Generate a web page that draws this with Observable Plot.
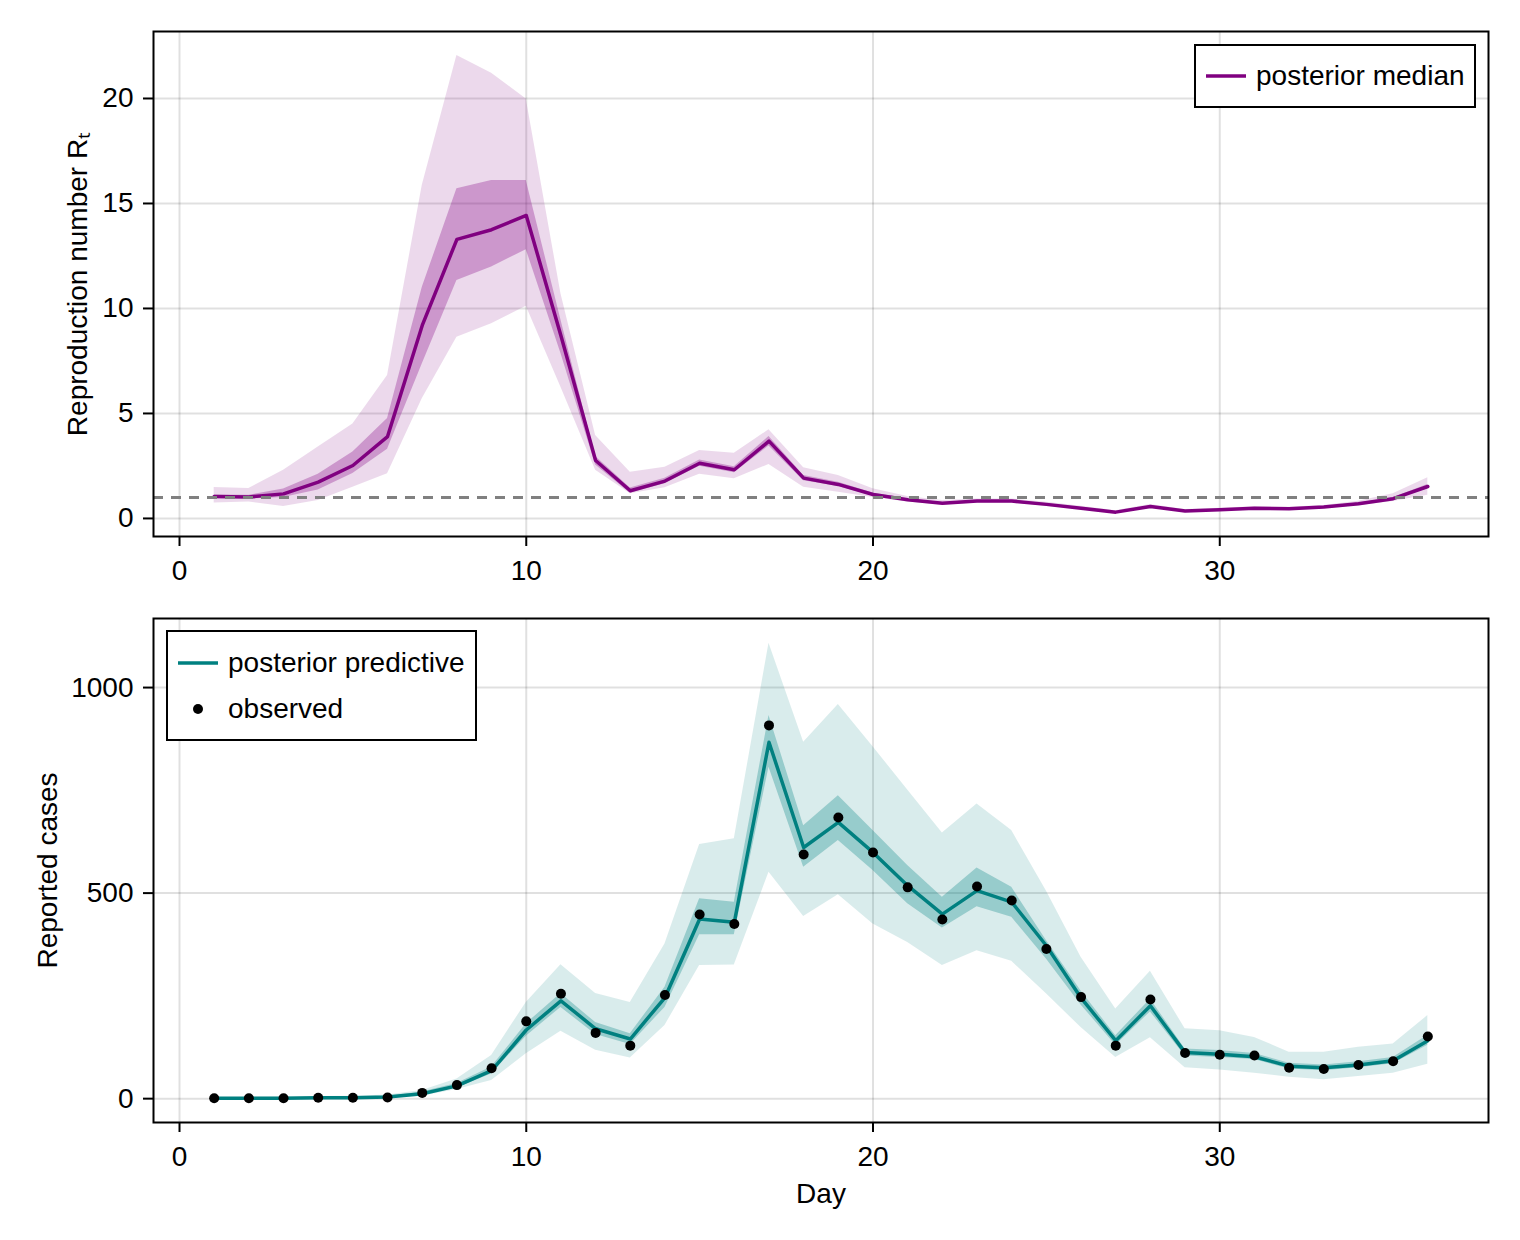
<!DOCTYPE html>
<html><head><meta charset="utf-8">
<script src="https://cdn.jsdelivr.net/npm/d3@7"></script>
<script src="https://cdn.jsdelivr.net/npm/@observablehq/plot@0.6"></script>
<style>
body{margin:0;background:#fff;font-family:"Liberation Sans",Arial,sans-serif;}
#wrap{position:relative;width:1520px;height:1240px;background:#fff;}
#wrap svg{display:block;}
.legend{position:absolute;box-sizing:border-box;border:2px solid #000;background:#fff;font-size:28px;color:#000;}
.row{display:flex;align-items:center;height:46px;}
.sw{width:40px;display:flex;justify-content:center;align-items:center;margin-right:10px;}
</style>
</head><body><div id="wrap"></div>
<script>
const days = [1,2,3,4,5,6,7,8,9,10,11,12,13,14,15,16,17,18,19,20,21,22,23,24,25,26,27,28,29,30,31,32,33,34,35,36];

// Reproduction number Rt
const rtMedian = [1.05,1.02,1.17,1.73,2.52,3.90,9.19,13.29,13.75,14.43,8.7,2.76,1.32,1.78,2.63,2.32,3.68,1.92,1.62,1.14,0.89,0.72,0.83,0.83,0.67,0.49,0.30,0.57,0.35,0.41,0.49,0.46,0.54,0.70,0.94,1.52];
const rtLo50 = [0.95,0.93,1.00,1.35,2.14,3.29,7.36,11.33,11.97,12.8,7.85,2.55,1.20,1.65,2.48,2.18,3.45,1.80,1.52,1.07,0.84,0.68,0.79,0.79,0.63,0.46,0.28,0.54,0.33,0.39,0.47,0.44,0.51,0.66,0.89,1.42];
const rtHi50 = [1.12,1.10,1.40,2.10,3.16,4.76,11.0,15.7,16.1,16.1,9.45,2.95,1.45,1.92,2.78,2.46,3.90,2.05,1.72,1.21,0.94,0.76,0.87,0.87,0.71,0.52,0.32,0.60,0.37,0.43,0.51,0.48,0.57,0.74,0.99,1.62];
const rtLo95 = [0.73,0.78,0.57,0.86,1.49,2.13,5.7,8.63,9.27,10.1,6.25,2.3,1.17,1.46,2.10,1.89,2.57,1.49,1.25,1.00,0.78,0.64,0.74,0.74,0.58,0.42,0.24,0.50,0.29,0.35,0.43,0.40,0.47,0.60,0.81,1.10];
const rtHi95 = [1.47,1.43,2.29,3.40,4.5,6.81,15.86,22.05,21.2,19.98,10.7,3.95,2.2,2.44,3.24,3.11,4.22,2.41,2.05,1.41,1.05,0.85,0.93,0.93,0.77,0.58,0.37,0.66,0.42,0.48,0.56,0.53,0.62,0.82,1.17,1.94];

// Reported cases
const observed = [1,1,1,2,2,3,14,33,74,188,255,160,129,252,448,425,908,594,684,599,514,436,516,482,364,247,129,241,111,107,105,75,72,82,91,151];
const predMedian = [1,1,1,2,2,4,12,31,68,167,238,170,145,246,437,429,867,611,672,599,518,449,506,478,372,245,141,226,112,108,102,79,75,82,92,141];
const predLo50 = [0,0,0,1,1,2,9,26,60,152,222,156,132,222,399,399,806,563,628,555,474,415,467,441,340,228,130,211,104,100,95,72,68,75,85,130];
const predHi50 = [2,2,2,3,3,6,16,37,77,182,256,185,158,271,486,478,932,664,737,652,567,490,561,514,385,262,153,242,121,117,110,86,82,90,100,154];
const predLo95 = [0,0,0,0,0,1,6,22,44,109,164,118,99,178,324,325,551,443,496,425,380,324,360,334,255,173,100,148,75,70,62,52,46,54,62,84];
const predHi95 = [3,3,4,5,6,9,20,48,105,234,326,256,234,376,618,632,1108,867,959,856,751,646,717,652,505,344,218,310,170,165,149,113,113,125,133,202];

const xTicks = [0,10,20,30];
const rtTicks = [0,5,10,15,20];
const caseTicks = [0,500,1000];

const PURPLE = "#800080", TEAL = "#008080";
const font = {fontFamily:'"Liberation Sans", Arial, sans-serif', fontSize:"28px", background:"white", color:"black"};
const fmt = d => String(d);

const rt = days.map((d,i)=>({day:d, med:rtMedian[i], lo50:rtLo50[i], hi50:rtHi50[i], lo95:rtLo95[i], hi95:rtHi95[i]}));
const cases = days.map((d,i)=>({day:d, obs:observed[i], med:predMedian[i], lo50:predLo50[i], hi50:predHi50[i], lo95:predLo95[i], hi95:predHi95[i]}));

const grid = {stroke:"black", strokeOpacity:0.12, strokeWidth:2};

const topPlot = Plot.plot({
  width:1520, height:590,
  marginTop:31, marginBottom:54, marginLeft:153, marginRight:32,
  x:{domain:[-0.75,37.75]},
  y:{domain:[-0.86,23.19]},
  style:font,
  marks:[
    Plot.gridX(xTicks, grid),
    Plot.gridY(rtTicks, grid),
    Plot.areaY(rt, {x:"day", y1:"lo95", y2:"hi95", fill:PURPLE, fillOpacity:0.15}),
    Plot.areaY(rt, {x:"day", y1:"lo50", y2:"hi50", fill:PURPLE, fillOpacity:0.3}),
    Plot.line(rt, {x:"day", y:"med", stroke:PURPLE, strokeWidth:3.5}),
    Plot.ruleY([1], {stroke:"#808080", strokeWidth:3, strokeDasharray:"10,8"}),
    Plot.axisX(xTicks, {tickSize:10, tickPadding:14, strokeWidth:2, label:null, fontSize:28, tickFormat:fmt}),
    Plot.axisY(rtTicks, {tickSize:10, tickPadding:10, strokeWidth:2, label:"Reproduction number Rₜ", labelAnchor:"center", labelOffset:86, labelArrow:"none", fontSize:28, tickFormat:fmt}),
    Plot.frame({stroke:"black", strokeWidth:2})
  ]
});

const bottomPlot = Plot.plot({
  width:1520, height:650,
  marginTop:28, marginBottom:118, marginLeft:153, marginRight:32,
  x:{domain:[-0.75,37.75]},
  y:{domain:[-58,1168]},
  style:font,
  marks:[
    Plot.gridX(xTicks, grid),
    Plot.gridY(caseTicks, grid),
    Plot.areaY(cases, {x:"day", y1:"lo95", y2:"hi95", fill:TEAL, fillOpacity:0.15}),
    Plot.areaY(cases, {x:"day", y1:"lo50", y2:"hi50", fill:TEAL, fillOpacity:0.3}),
    Plot.line(cases, {x:"day", y:"med", stroke:TEAL, strokeWidth:3.5}),
    Plot.dot(cases, {x:"day", y:"obs", r:5, fill:"black"}),
    Plot.axisX(xTicks, {tickSize:10, tickPadding:14, strokeWidth:2, label:"Day", labelAnchor:"center", labelOffset:80, labelArrow:"none", fontSize:28, tickFormat:fmt}),
    Plot.axisY(caseTicks, {tickSize:10, tickPadding:10, strokeWidth:2, label:"Reported cases", labelAnchor:"center", labelOffset:116, labelArrow:"none", fontSize:28, tickFormat:fmt}),
    Plot.frame({stroke:"black", strokeWidth:2})
  ]
});

const wrap = document.getElementById("wrap");
wrap.appendChild(topPlot);
wrap.appendChild(bottomPlot);

// legends
function legend(left, top, width, height, rows){
  const box = document.createElement("div");
  box.className = "legend";
  Object.assign(box.style, {left:left+"px", top:top+"px", width:width+"px", height:height+"px", paddingLeft:"10px", paddingTop:((height-4-46*rows.length)/2)+"px"});
  for (const r of rows){
    const row = document.createElement("div");
    row.className = "row";
    const sw = document.createElement("div");
    sw.className = "sw";
    if (r.type === "line") sw.innerHTML = `<svg width="40" height="6"><line x1="0" x2="40" y1="3" y2="3" stroke="${r.color}" stroke-width="3.5"/></svg>`;
    else sw.innerHTML = `<svg width="12" height="12"><circle cx="6" cy="6" r="5" fill="${r.color}"/></svg>`;
    const t = document.createElement("span");
    t.textContent = r.label;
    row.appendChild(sw); row.appendChild(t);
    box.appendChild(row);
  }
  wrap.appendChild(box);
}
legend(1194, 44, 282, 64, [{type:"line", color:PURPLE, label:"posterior median"}]);
legend(166, 630, 311, 111, [{type:"line", color:TEAL, label:"posterior predictive"}, {type:"dot", color:"black", label:"observed"}]);
</script>
</body></html>
